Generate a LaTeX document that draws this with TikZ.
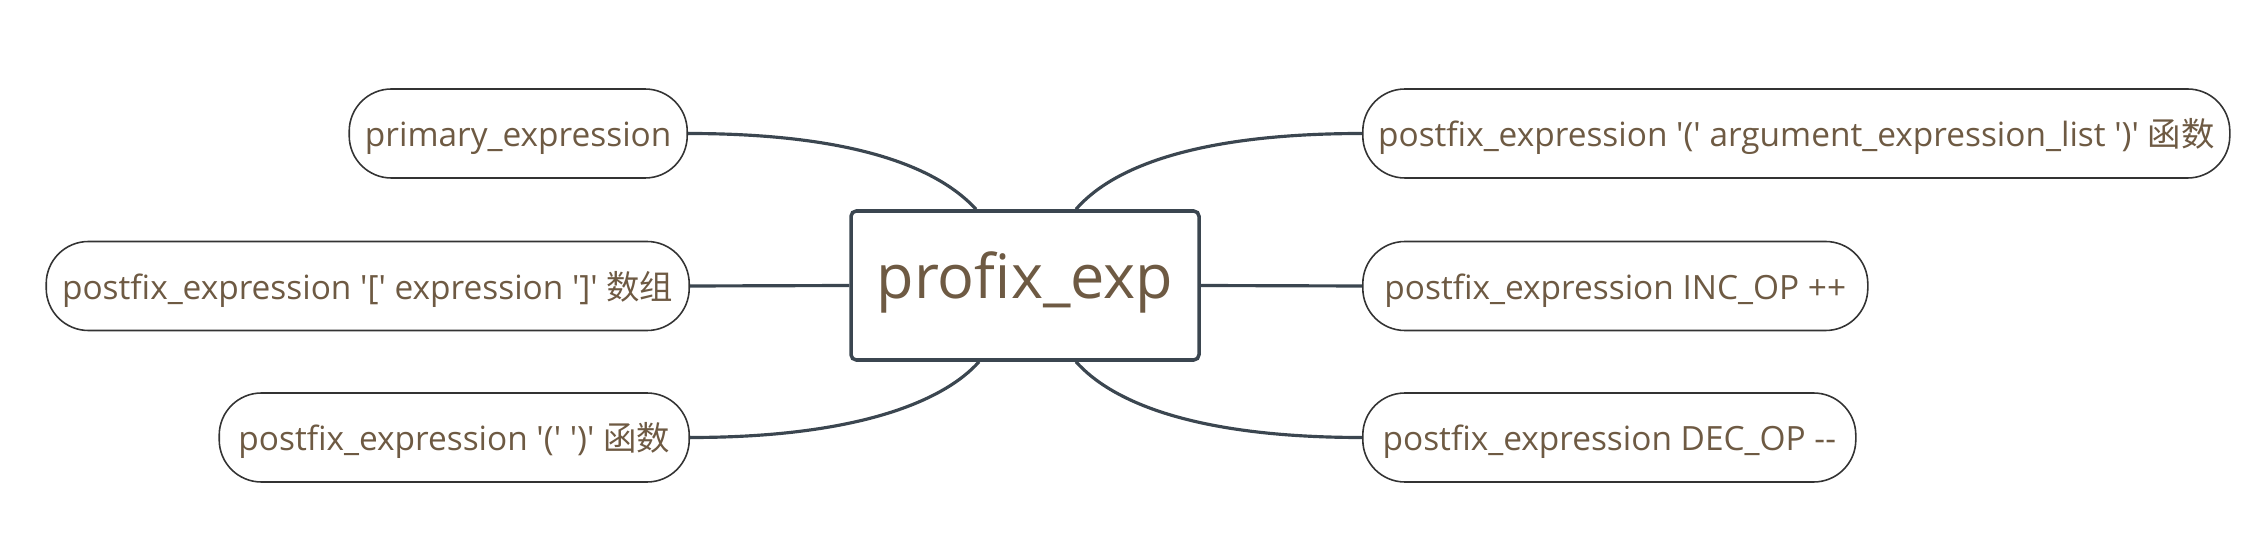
\documentclass[tikz,border=0pt]{standalone}
\usepackage{fontspec}
\setmainfont{Open Sans}[Ligatures=TeXOff]
\newfontfamily\cjk{Noto Sans CJK SC}
\usepackage{tikz}

\definecolor{linegray}{HTML}{3B4650}
\definecolor{textbrown}{HTML}{6E5A43}

\tikzset{
	leaf/.style={draw=black!80, line width=0.45pt, rounded corners=12pt,
		minimum height=89*0.01cm, inner xsep=0pt, text=textbrown,
		text height=0.98em, text depth=0.24em,
		font=\fontsize{9.5}{11}\selectfont},
	hub/.style={draw=linegray, line width=1pt, rounded corners=1.5pt,
		minimum width=348*0.01cm, minimum height=149*0.01cm, text=textbrown,
		text height=0.98em, text depth=0.24em,
		font=\fontsize{17.4}{19}\selectfont},
	branch/.style={draw=linegray, line width=0.9pt}
}

\begin{document}
\begin{tikzpicture}[x=0.01cm, y=-0.01cm]
		\useasboundingbox (0,0) rectangle (2255,555);

		% centre
		\node[hub] (root) at (1025,285.5) {profix\_exp};

		% left side
		\node[leaf, minimum width=338*0.01cm, anchor=east] (prim) at (688,133.5) {primary\_expression};
		\node[leaf, minimum width=643*0.01cm, anchor=east] (arr) at (690,286) {postfix\_expression '[' expression ']' {\cjk 数组}};
		\node[leaf, minimum width=470*0.01cm, anchor=east] (call) at (690,437.5) {postfix\_expression '(' ')' {\cjk 函数}};

		% right side
		\node[leaf, minimum width=867*0.01cm, anchor=west] (callargs) at (1362,133.5) {postfix\_expression '(' argument\_expression\_list ')' {\cjk 函数}};
		\node[leaf, minimum width=505*0.01cm, anchor=west] (inc) at (1362,286) {postfix\_expression INC\_OP ++};
		\node[leaf, minimum width=493*0.01cm, anchor=west] (dec) at (1362,437.5) {postfix\_expression DEC\_OP --};

		\coordinate (tl) at ([xshift=-49*0.01cm]root.north);
		\coordinate (tr) at ([xshift=51*0.01cm]root.north);
		\coordinate (bl) at ([xshift=-46*0.01cm]root.south);
		\coordinate (br) at ([xshift=51*0.01cm]root.south);

		\draw[branch] (prim.east) .. controls (860,133.5) and (940,170) .. (tl);
		\draw[branch] (arr.east) -- (root.west);
		\draw[branch] (call.east) .. controls (860,437.5) and (945,400) .. (bl);

		\draw[branch] (callargs.west) .. controls (1190,133.5) and (1110,170) .. (tr);
		\draw[branch] (inc.west) -- (root.east);
		\draw[branch] (dec.west) .. controls (1190,437.5) and (1110,400) .. (br);

	\end{tikzpicture}
\end{document}
